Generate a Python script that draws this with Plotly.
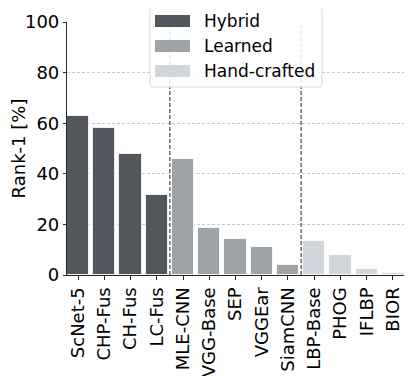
import plotly.graph_objects as go

# Rank-1 accuracy per method, grouped by feature type
hybrid_names = ["ScNet-5", "CHP-Fus", "CH-Fus", "LC-Fus"]
hybrid_vals = [63.0, 58.0, 47.8, 31.6]

learned_names = ["MLE-CNN", "VGG-Base", "SEP", "VGGEar", "SiamCNN"]
learned_vals = [45.7, 18.6, 14.3, 11.1, 3.8]

hand_names = ["LBP-Base", "PHOG", "IFLBP", "BIOR"]
hand_vals = [13.3, 7.8, 2.2, 0.7]

groups = [
    ("Hybrid", hybrid_names, hybrid_vals, "#51575d"),
    ("Learned", learned_names, learned_vals, "#9ea3a8"),
    ("Hand-crafted", hand_names, hand_vals, "#d1d7dd"),
]

y_ticks = [0, 20, 40, 60, 80, 100]
font = "DejaVu Sans"

fig = go.Figure()
all_names = []
for name, cats, vals, color in groups:
    all_names += cats
    fig.add_trace(
        go.Bar(
            x=cats,
            y=vals,
            name=name,
            width=0.84,
            marker=dict(color=color, line=dict(color="rgba(255,255,255,0.8)", width=1)),
            showlegend=False,
        )
    )

# dashed separators between groups
for xpos in [3.5, 8.5]:
    fig.add_shape(
        type="line", xref="x", yref="y", x0=xpos, x1=xpos, y0=0, y1=100,
        line=dict(color="#222222", width=1, dash="4px,2px"), layer="above",
    )

# page has an 8px body margin, so the figure is 8px smaller
OFF = 8
W, H = 415 - OFF, 376 - OFF
ml, mr, mt, mb = 67 - OFF, 11, 22 - OFF, 101
pw, ph = W - ml - mr, H - mt - mb


def px2paper(x, y):
    # x, y in page pixels
    return (x - OFF - ml) / pw, 1 - (y - OFF - mt) / ph


# hand-drawn legend box (matplotlib style)
lx0, lx1, ly0, ly1 = 150, 322, 7, 87
r = 4
path = (
    f"M{lx0 + r},{ly0} L{lx1 - r},{ly0} Q{lx1},{ly0} {lx1},{ly0 + r} "
    f"L{lx1},{ly1 - r} Q{lx1},{ly1} {lx1 - r},{ly1} L{lx0 + r},{ly1} "
    f"Q{lx0},{ly1} {lx0},{ly1 - r} L{lx0},{ly0 + r} Q{lx0},{ly0} {lx0 + r},{ly0} Z"
)


def conv_path(p):
    out = []
    for tok in p.split(" "):
        cmd = tok[0] if tok[0].isalpha() else ""
        nums = tok[1:] if cmd else tok
        if "," in nums:
            a, b = nums.split(",")
            px, py = px2paper(float(a), float(b))
            out.append(f"{cmd}{px:.5f},{py:.5f}")
        else:
            out.append(tok)
    return " ".join(out)


fig.add_shape(
    type="path", xref="paper", yref="paper", path=conv_path(path),
    fillcolor="rgba(255,255,255,0.85)", line=dict(color="#d9d9d9", width=1), layer="above",
)
for i, (name, cats, vals, color) in enumerate(groups):
    cy = 21 + i * 25
    x0p, y0p = px2paper(155, cy - 6)
    x1p, y1p = px2paper(190, cy + 6)
    fig.add_shape(
        type="rect", xref="paper", yref="paper", x0=x0p, x1=x1p, y0=y1p, y1=y0p,
        fillcolor=color, line=dict(width=0), layer="above",
    )
    tx, ty = px2paper(202, cy)
    fig.add_annotation(
        x=tx, y=ty, xref="paper", yref="paper", text=name, showarrow=False,
        xanchor="left", yanchor="middle", font=dict(family=font, size=17, color="#000"),
    )

fig.update_layout(
    width=W, height=H,
    margin=dict(l=ml, r=mr, t=mt, b=mb),
    plot_bgcolor="white", paper_bgcolor="white",
    font=dict(family=font, size=18, color="#000"),
    bargap=0,
)
fig.update_xaxes(
    categoryorder="array", categoryarray=all_names,
    range=[-0.42, 12.42], tickangle=-90,
    showline=True, linecolor="#262626", linewidth=1.2,
    ticks="outside", ticklen=4, tickcolor="#262626",
    showgrid=False, tickfont=dict(size=18), automargin=False,
)
fig.update_yaxes(
    range=[0, 100], tickvals=y_ticks,
    title=dict(text="Rank-1 [%]", standoff=8, font=dict(size=18)),
    showline=True, linecolor="#262626", linewidth=1.2,
    ticks="outside", ticklen=3, tickcolor="#262626",
    showgrid=True, gridcolor="#c8c8c8", griddash="3px,2px", gridwidth=1,
    zeroline=False, layer="above traces", tickfont=dict(size=18), automargin=False,
)

fig.write_html("out.html")
